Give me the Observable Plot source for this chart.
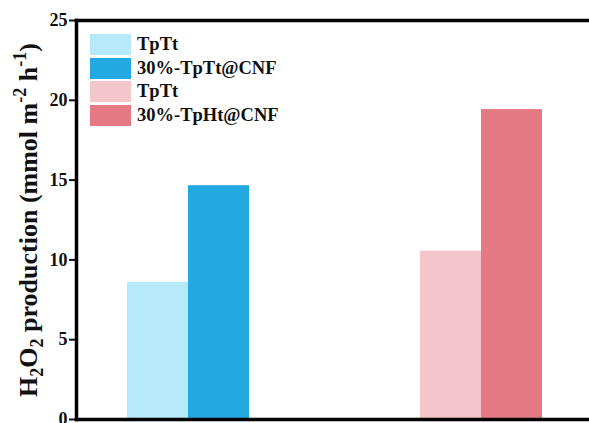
<!DOCTYPE html>
<html>
<head>
<meta charset="utf-8">
<script src="https://cdn.jsdelivr.net/npm/d3@7"></script>
<script src="https://cdn.jsdelivr.net/npm/@observablehq/plot@0.6"></script>
<style>
  html, body { margin: 0; padding: 0; background: #fff; }
  #wrap { position: relative; width: 589px; height: 423px; overflow: hidden; }
  #legend {
    position: absolute; left: 90px; top: 33px;
    font-family: "Liberation Serif", "Times New Roman", serif;
    font-weight: bold; font-size: 18.5px; color: #111;
  }
  .row { display: flex; align-items: center; height: 23.6px; }
  .sw { width: 41px; height: 21px; margin-right: 6px; }
</style>
</head>
<body>
<div id="wrap"><div id="legend"></div></div>
<script>
// Two catalyst families, each with the pristine COF and its 30% CNF composite
const groups = ["TpTt", "TpHt"];
const seriesGroup = ["TpTt", "TpTt", "TpHt", "TpHt"];
const seriesKind = ["pristine", "composite", "pristine", "composite"];
const seriesLabels = ["TpTt", "30%-TpTt@CNF", "TpTt", "30%-TpHt@CNF"];
const seriesValues = [8.6, 14.65, 10.55, 19.42]; // mmol m^-2 h^-1
const seriesColors = ["#b6e9fa", "#23a9e1", "#f2c6ca", "#e57a85"];
const yTicks = [0, 5, 10, 15, 20, 25];

const rows = seriesValues.map((v, i) => ({
  group: seriesGroup[i], kind: seriesKind[i], value: v, color: seriesColors[i]
}));

// each group band holds two side-by-side bars: pristine on the left half, composite on the right
const halfBand = 61;

const chart = Plot.plot({
  width: 589,
  height: 423,
  marginLeft: 76,
  marginRight: 0,
  marginTop: 20,
  marginBottom: 4,
  style: {fontFamily: "Liberation Serif, Times New Roman, serif", fontWeight: "bold", fontSize: "18px", color: "#111", background: "#fff"},
  x: {domain: groups, paddingInner: 0.585, paddingOuter: 0.1667, align: 0.52, axis: null, label: null},
  y: {domain: [0, 25], axis: null, label: null},
  marks: [
    Plot.barY(rows.filter(d => d.kind === "pristine"), {x: "group", y: "value", fill: "color", insetRight: halfBand}),
    Plot.barY(rows.filter(d => d.kind === "composite"), {x: "group", y: "value", fill: "color", insetLeft: halfBand}),
    Plot.axisY({ticks: yTicks, tickSize: 7, tickPadding: 2, strokeWidth: 2, label: null, fontSize: 18}),
    // open box: top, bottom and left edges of the plot area
    Plot.frame({anchor: "top", stroke: "#000", strokeWidth: 3.5}),
    Plot.frame({anchor: "bottom", stroke: "#000", strokeWidth: 3.5}),
    Plot.frame({anchor: "left", stroke: "#000", strokeWidth: 3.5})
  ]
});

document.getElementById("wrap").prepend(chart);

// Y-axis title with sub/superscripts
const svg = d3.select(chart);
const title = svg.append("text")
  .attr("transform", "translate(37,220) rotate(-90)")
  .attr("text-anchor", "middle")
  .attr("font-family", "Liberation Serif, Times New Roman, serif")
  .attr("font-weight", "bold")
  .attr("font-size", 26)
  .attr("fill", "#111");
title.append("tspan").text("H");
title.append("tspan").attr("font-size", 18).attr("dy", 6).text("2");
title.append("tspan").attr("dy", -6).text("O");
title.append("tspan").attr("font-size", 18).attr("dy", 6).text("2");
title.append("tspan").attr("dy", -6).text(" production (mmol m");
title.append("tspan").attr("font-size", 18).attr("dy", -11).text("-2");
title.append("tspan").attr("dy", 11).text(" h");
title.append("tspan").attr("font-size", 18).attr("dy", -11).text("-1");
title.append("tspan").attr("dy", 11).text(")");

// Legend
const legend = d3.select("#legend");
seriesLabels.forEach((label, i) => {
  const row = legend.append("div").attr("class", "row");
  row.append("div").attr("class", "sw").style("background", seriesColors[i]);
  row.append("span").text(label);
});
</script>
</body>
</html>
